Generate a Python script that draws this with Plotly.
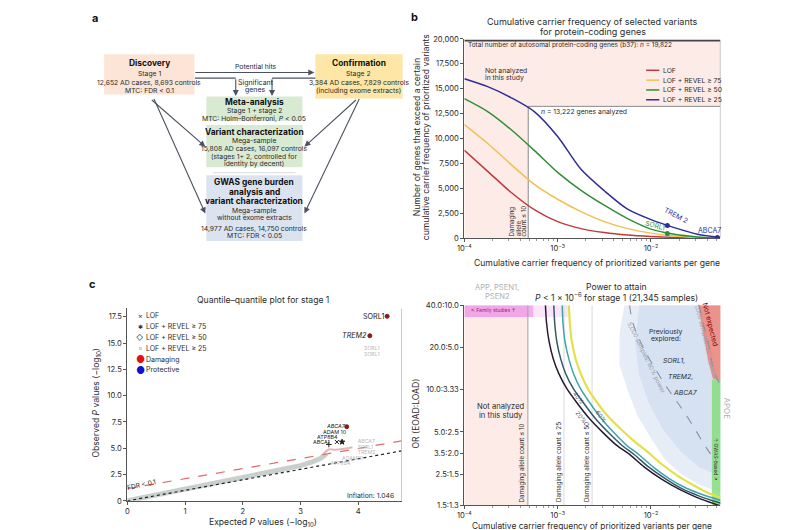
import math
import plotly.graph_objects as go

W, H = 800, 530
def PX(x): return x / W
def PY(y): return 1 - y / H
L10 = math.log10

FONT = "Inter, 'Open Sans', sans-serif"
TXT = "#2b2b2b"
AX = "#555555"
ARROW = "#4a5262"

# ================= DATA =================
# Panel b: cumulative carrier frequency curves
b_freq = [1e-4, 1.78e-4, 3.16e-4, 5.62e-4, 1e-3, 1.78e-3, 3.16e-3, 5.62e-3, 1e-2, 1.78e-2, 3.16e-2, 5.5e-2]
b_lof = [8800, 6700, 4600, 2850, 1650, 950, 550, 300, 160, 70, 25, 5]
b_revel75 = [11400, 9500, 7400, 5400, 3900, 2650, 1650, 950, 500, 200, 60, 10]
b_revel50 = [14000, 12700, 10900, 8800, 6600, 4800, 3300, 1950, 900, 380, 120, 20]
b_revel25 = [16000, 15200, 14100, 12700, 10200, 6900, 4750, 2900, 1850, 1050, 380, 60]
b_series_names = ["LOF", "LOF + REVEL ≥ 75", "LOF + REVEL ≥ 50", "LOF + REVEL ≥ 25"]
b_colors = ["#c0393b", "#f0c050", "#2f8f36", "#2e2e96"]
b_total_genes = 19822
b_analyzed_genes = 13222
b_cutoff_freq = 4.84e-4
b_xmax = 0.0556
b_mark_genes = ["TREM 2", "SORL1", "ABCA7"]
b_mark_freq = [1.5e-2, 1.5e-2, 5.15e-2]
b_mark_val = [1260, 450, 70]
b_mark_colors = ["#2e2e96", "#2f8f36", "#2e2e96"]

# Panel c (left): QQ plot
qq_band_exp = [0, 0.5, 1.0, 1.5, 2.0, 2.5, 3.0, 3.2, 3.35, 3.45]
qq_band_obs = [0, 0.55, 1.1, 1.65, 2.2, 2.75, 3.35, 3.7, 4.05, 4.5]
qq_bump_exp = [3.38, 3.45, 3.5, 3.6, 3.75, 3.9]
qq_bump_obs = [4.3, 4.75, 4.9, 4.85, 4.95, 5.1]
qq_fdr_exp = [0, 4.75]
qq_fdr_obs = [1.15, 5.7]
qq_null_exp = [0, 4.75]
qq_null_obs = [0, 4.75]
qq_hit_genes = ["SORL1", "TREM2", "ABCA7", "ADAM 10", "ATP8B4", "ABCA1"]
qq_hit_exp = [4.50, 4.20, 3.80, 3.63, 3.72, 3.49]
qq_hit_obs = [17.55, 15.7, 7.05, 5.6, 5.6, 5.36]
qq_label_exp = [4.26, 3.93, 3.61, 3.60, 3.47, 3.36]
qq_label_obs = [17.55, 15.7, 7.07, 6.5, 6.04, 5.6]
qq_hit_symbols = ["circle", "circle", "circle", "x-thin", "star", "cross-thin"]
qq_hit_colors = ["#8b1a1a", "#8b1a1a", "#8b1a1a", "#222222", "#222222", "#222222"]
qq_gray_genes = ["SORL1", "SORL1", "ABCA7", "SORL1", "TREM2", "ADAM10", "ATP8B4"]
qq_gray_exp = [4.1, 4.1, 3.99, 3.99, 3.99, 3.72, 3.52]
qq_gray_obs = [14.45, 13.85, 5.65, 5.1, 4.55, 4.05, 3.55]
qq_inflation = 1.046

# Panel c (right): power curves (frequency, OR of EOAD)
pw_f20 = [7.4e-4, 7.6e-4, 8.1e-4, 9.0e-4, 1.03e-3, 1.25e-3, 1.6e-3, 2.2e-3, 3.1e-3, 4.3e-3, 5.9e-3, 8.5e-3, 1.3e-2, 2.0e-2, 3.0e-2, 4.2e-2, 5.6e-2]
pw_or20 = [40, 30, 22, 16.5, 13, 10.2, 8.1, 6.2, 4.9, 4.0, 3.45, 2.8, 2.3, 1.95, 1.72, 1.58, 1.48]
pw_f40 = [9.1e-4, 9.3e-4, 9.8e-4, 1.08e-3, 1.22e-3, 1.47e-3, 1.88e-3, 2.55e-3, 3.55e-3, 4.9e-3, 6.6e-3, 9.5e-3, 1.45e-2, 2.2e-2, 3.3e-2, 4.5e-2, 5.6e-2]
pw_or40 = [40, 30, 22, 16.5, 13, 10.2, 8.1, 6.2, 4.9, 4.0, 3.45, 2.8, 2.3, 1.95, 1.74, 1.62, 1.55]
pw_f60 = [1.12e-3, 1.14e-3, 1.2e-3, 1.32e-3, 1.48e-3, 1.75e-3, 2.2e-3, 2.95e-3, 4.05e-3, 5.5e-3, 7.4e-3, 1.06e-2, 1.6e-2, 2.4e-2, 3.6e-2, 5.6e-2]
pw_or60 = [40, 30, 22, 16.5, 13, 10.2, 8.1, 6.2, 4.9, 4.0, 3.45, 2.8, 2.3, 1.98, 1.78, 1.62]
pw_f80 = [1.32e-3, 1.35e-3, 1.42e-3, 1.56e-3, 1.77e-3, 2.1e-3, 2.65e-3, 3.5e-3, 4.8e-3, 6.6e-3, 9.2e-3, 1.3e-2, 1.9e-2, 2.8e-2, 4.0e-2, 5.6e-2]
pw_or80 = [40, 30, 22, 16.5, 13, 10.2, 8.1, 6.4, 5.2, 4.3, 3.6, 2.95, 2.45, 2.1, 1.85, 1.7]
pw_labels = ["20%", "40%", "60%", "80%"]
pw_colors = ["#2a1b33", "#33586a", "#3fa3ae", "#e4e04a"]
pw_5k_f = [5.9e-3, 6.4e-3, 8.2e-3, 1.34e-2, 2.38e-2, 4.2e-2, 5.16e-2]
pw_5k_or = [40, 30, 20.2, 11.5, 6.6, 3.6, 3.0]
pw_1k_f = [3.3e-2, 3.6e-2, 4.04e-2, 4.75e-2, 5.4e-2]
pw_1k_or = [40, 30, 23, 13.4, 11.2]
pw_explored_outer_f = [5.2e-3, 4.6e-3, 4.6e-3, 5.6e-3, 7.2e-3, 1.0e-2, 1.4e-2, 2.1e-2, 3.3e-2, 5.6e-2, 5.6e-2]
pw_explored_outer_or = [40, 25, 15, 10, 6.5, 4.5, 3.2, 2.5, 2.1, 1.85, 40]
pw_explored_inner_f = [7.5e-3, 6.8e-3, 7.4e-3, 9.5e-3, 1.35e-2, 2.1e-2, 3.3e-2, 5.6e-2, 5.6e-2]
pw_explored_inner_or = [40, 22, 13, 8, 5.2, 3.6, 2.8, 2.4, 40]
pw_notexp_f = [3.2e-2, 3.6e-2, 4.1e-2, 4.6e-2, 5.6e-2, 5.6e-2]
pw_notexp_or = [40, 25, 16, 12, 11.5, 40]
pw_gwas_f = [4.5e-2, 5.6e-2, 5.6e-2, 4.5e-2]
pw_gwas_or = [1.5, 1.5, 11.8, 11.8]
pw_family_f = [1e-4, 5.5e-4, 5.5e-4, 1e-4]
pw_family_or = [33, 33, 40, 40]
pw_family_fade_f = [5.5e-4, 1.3e-3, 1.3e-3, 5.5e-4]
pw_cutoff_freqs = [4.8e-4, 1.17e-3, 2.34e-3]
pw_cutoff_counts = [10, 25, 50]
pw_ytick_vals = [1.5, 2.5, 3.5, 5, 10, 20, 40]
pw_ytick_text = ["1.5:1.3", "2.5:1.5", "3.5:2.0", "5.0:2.5", "10.0:3.33", "20.0:5.0", "40.0:10.0"]

# ================= FIGURE =================
fig = go.Figure()
shapes, annotations = [], []

def txt(x, y, s, size=6.8, color=TXT, xanchor='center', yanchor='middle', angle=0, bold=False, italic=False):
    if bold:
        s = f"<b>{s}</b>"
    if italic:
        s = f"<i>{s}</i>"
    annotations.append(dict(x=PX(x), y=PY(y), xref='paper', yref='paper', text=s, showarrow=False,
                            font=dict(size=size, color=color, family=FONT), xanchor=xanchor,
                            yanchor=yanchor, textangle=angle, borderpad=0))

def line(x0, y0, x1, y1, color=ARROW, width=1.1, dash='solid'):
    shapes.append(dict(type='line', xref='paper', yref='paper', x0=PX(x0), y0=PY(y0), x1=PX(x1), y1=PY(y1),
                       line=dict(color=color, width=width, dash=dash)))

def arrow(x0, y0, x1, y1):
    annotations.append(dict(x=PX(x1), y=PY(y1), xref='paper', yref='paper', ax=x0 - x1, ay=y0 - y1,
                            axref='pixel', ayref='pixel', showarrow=True, arrowhead=2, arrowsize=1.1,
                            arrowwidth=1.1, arrowcolor=ARROW, text=''))

def rect(x0, y0, x1, y1, fill):
    shapes.append(dict(type='rect', xref='paper', yref='paper', x0=PX(x0), y0=PY(y1), x1=PX(x1), y1=PY(y0),
                       fillcolor=fill, line=dict(width=0), layer='below'))

# ---------- Panel a: flowchart ----------
txt(81, 6, "a", size=11, bold=True, color="#111")
rect(90, 43, 181, 84, '#fce4d6')
rect(303, 43, 391, 88, '#fde6a6')
rect(193, 86, 290, 111, '#d9ead3')
rect(193, 115, 290, 158, '#d9ead3')
rect(193, 166, 290, 233, '#dbe3f1')
line(200, 163.5, 283, 163.5, color='#d0d0d0', width=0.8)

TS = 8.4
txt(135.5, 51.7, "Discovery", size=TS, bold=True, color="#111")
txt(135.5, 63, "Stage 1")
txt(135.5, 72, "12,652 AD cases, 8,693 controls")
txt(135.5, 80, "MTC: FDR < 0.1")
txt(347, 51.7, "Confirmation", size=TS, bold=True, color="#111")
txt(347, 63, "Stage 2")
txt(347, 72, "3,384 AD cases, 7,829 controls")
txt(347, 80, "(including exome extracts)")
txt(241.5, 91.3, "Meta-analysis", size=TS, bold=True, color="#111")
txt(241.5, 100, "Stage 1 + stage 2")
txt(241.5, 108.3, "MTC: Holm–Bonferroni, <i>P</i> < 0.05")
txt(241.5, 122, "Variant characterization", size=TS, bold=True, color="#111")
txt(241.5, 131, "Mega-sample")
txt(241.5, 139.3, "15,808 AD cases, 16,097 controls")
txt(241.5, 146.7, "(stages 1+ 2, controlled for")
txt(241.5, 154, "identity by decent)")
txt(241.5, 173.3, "GWAS gene burden", size=TS, bold=True, color="#111")
txt(241.5, 182.7, "analysis and", size=TS, bold=True, color="#111")
txt(241.5, 192, "variant characterization", size=TS, bold=True, color="#111")
txt(241.5, 202, "Mega-sample")
txt(241.5, 209.3, "without exome extracts")
txt(241.5, 220, "14,977 AD cases, 14,750 controls")
txt(241.5, 227.7, "MTC: FDR < 0.05")

arrow(181.5, 61.5, 302, 61.5)
txt(243, 55.7, "Potential hits")
line(181.5, 67.3, 222.7, 67.3)
arrow(222.7, 67.3, 222.7, 85.5)
line(303, 67.3, 259.3, 67.3)
arrow(259.3, 67.3, 259.3, 85.5)
txt(243, 71.7, "Significant", size=7)
txt(243, 79.3, "genes", size=7)
arrow(137, 89, 192, 137)
arrow(140, 89, 192, 205)
arrow(345, 89, 292, 137)
arrow(347.5, 89, 292, 205)

# ---------- Panel b ----------
txt(403, 5, "b", size=11, bold=True, color="#111")
fig.add_trace(go.Scatter(x=[1e-4, b_cutoff_freq, b_cutoff_freq, b_xmax, b_xmax, 1e-4],
                         y=[0, 0, b_analyzed_genes, b_analyzed_genes, b_total_genes, b_total_genes],
                         fill='toself', fillcolor='#fcebe7', line=dict(width=0), mode='lines',
                         hoverinfo='skip', xaxis='x', yaxis='y'))
fig.add_trace(go.Scatter(x=[b_cutoff_freq, b_cutoff_freq, b_xmax], y=[0, b_analyzed_genes, b_analyzed_genes],
                         mode='lines', line=dict(color='#8a8a8a', width=1), xaxis='x', yaxis='y'))
fig.add_trace(go.Scatter(x=[1e-4, b_xmax], y=[b_total_genes, b_total_genes], mode='lines',
                         line=dict(color='#444', width=1.6), xaxis='x', yaxis='y'))
fig.add_trace(go.Scatter(x=[b_xmax, b_xmax], y=[0, b_total_genes], mode='lines',
                         line=dict(color='#aaa', width=1.2), xaxis='x', yaxis='y'))
for ys, c in zip([b_lof, b_revel75, b_revel50, b_revel25], b_colors):
    fig.add_trace(go.Scatter(x=b_freq, y=ys, mode='lines', line=dict(color=c, width=1.5, shape='spline', smoothing=0.8),
                             xaxis='x', yaxis='y'))
fig.add_trace(go.Scatter(x=b_mark_freq, y=b_mark_val, mode='markers',
                         marker=dict(color=b_mark_colors, size=5), xaxis='x', yaxis='y'))
annotations.append(dict(x=L10(b_mark_freq[0]), y=b_mark_val[0], xref='x', yref='y', text=b_mark_genes[0],
                        showarrow=False, xshift=9, yshift=10, textangle=28,
                        font=dict(size=7, color=b_mark_colors[0], family=FONT)))
annotations.append(dict(x=L10(b_mark_freq[1]), y=b_mark_val[1], xref='x', yref='y', text=b_mark_genes[1],
                        showarrow=False, xshift=-12, yshift=8, textangle=15,
                        font=dict(size=6.8, color=b_mark_colors[1], family=FONT)))
annotations.append(dict(x=L10(b_mark_freq[2]), y=b_mark_val[2], xref='x', yref='y', text=b_mark_genes[2],
                        showarrow=False, xshift=-8, yshift=7,
                        font=dict(size=7, color=b_mark_colors[2], family=FONT)))
# legend (manual)
for i, (nm, c) in enumerate(zip(b_series_names, b_colors)):
    yy = 59.3 + 10 * i
    line(636.7, yy, 650, yy, color=c, width=1.5)
    txt(652.5, yy, nm, size=6.8, xanchor='left')

txt(583, 9.5, "Cumulative carrier frequency of selected variants", size=9)
txt(583, 19.5, "for protein-coding genes", size=9)
txt(456, 33.3, "Total number of autosomal protein-coding genes (b37): <i>n</i> = 19,822", size=6.5, xanchor='left')
txt(472.7, 59.3, "Not analyzed", size=6.8, xanchor='left')
txt(472.7, 66.7, "in this study", size=6.8, xanchor='left')
txt(529.3, 101.7, "<i>n</i> = 13,222 genes analyzed", size=6.8, xanchor='left')
txt(501.7, 229, "Damaging", size=6.2, angle=-90, yanchor='bottom')
txt(507.5, 229, "allele", size=6.2, angle=-90, yanchor='bottom')
txt(513.3, 229, "count ≤ 10", size=6.2, angle=-90, yanchor='bottom')
txt(405, 127, "Number of genes that exceed a certain", size=8.6, angle=-90)
txt(414, 127, "cumulative carrier frequency of prioritized variants", size=8.6, angle=-90)
txt(586.7, 255, "Cumulative carrier frequency of prioritized variants per gene", size=8.6)

# ---------- Panel c left: QQ ----------
txt(78, 277, "c", size=11, bold=True, color="#111")
fig.add_trace(go.Scatter(x=qq_band_exp, y=qq_band_obs, mode='lines', line=dict(color='#c8cfcd', width=5),
                         xaxis='x2', yaxis='y2'))
fig.add_trace(go.Scatter(x=qq_bump_exp, y=qq_bump_obs, mode='lines', line=dict(color='#e2b9b9', width=2, shape='spline'),
                         xaxis='x2', yaxis='y2'))
fig.add_trace(go.Scatter(x=qq_null_exp, y=qq_null_obs, mode='lines', line=dict(color='#222', width=1.2, dash='dot'),
                         xaxis='x2', yaxis='y2'))
fig.add_trace(go.Scatter(x=qq_fdr_exp, y=qq_fdr_obs, mode='lines', line=dict(color='#e06a6a', width=1.2, dash='dash'),
                         xaxis='x2', yaxis='y2'))
fig.add_trace(go.Scatter(x=qq_gray_exp, y=qq_gray_obs, mode='text', text=qq_gray_genes,
                         textfont=dict(size=5.2, color='#b8b8b8', family=FONT), textposition='middle right',
                         xaxis='x2', yaxis='y2'))
fig.add_trace(go.Scatter(x=qq_hit_exp, y=qq_hit_obs, mode='markers',
                         marker=dict(symbol=qq_hit_symbols, color=qq_hit_colors, size=4,
                                     line=dict(width=1, color=qq_hit_colors)),
                         xaxis='x2', yaxis='y2'))
for g, ex, ob in zip(qq_hit_genes, qq_label_exp, qq_label_obs):
    it = g in ("TREM2", "ABCA7")
    big = ob > 10
    annotations.append(dict(x=ex, y=ob, xref='x2', yref='y2', text=(f"<i>{g}</i>" if it else g), showarrow=False,
                            font=dict(size=7.2 if big else 5.4, color='#222', family=FONT)))
# QQ legend
leg = [("×", "LOF", '#333', 7), ("✱", "LOF + REVEL ≥ 75", '#333', 6), ("◇", "LOF + REVEL ≥ 50", '#333', 7),
       ("▫", "LOF + REVEL ≥ 25", '#333', 8), ("●", "Damaging", '#e01010', 10), ("●", "Protective", '#1010d0', 10)]
for i, (sym, nm, c, s) in enumerate(leg):
    yy = 309 + 11 * i
    txt(126.5, yy, sym, size=s, color=c)
    txt(131.5, yy, nm, size=7, xanchor='left')
txt(250, 293, "Quantile–quantile plot for stage 1", size=8.6)
txt(383, 492.3, f"Inflation: {qq_inflation}", size=6.8, xanchor='right')
txt(128, 481.5, "FDR < 0.1", size=6.6, angle=-12)
txt(82, 398, "Observed <i>P</i> values (−log<sub>10</sub>)", size=8.6, angle=-90)
txt(250, 519, "Expected <i>P</i> values (−log<sub>10</sub>)", size=8.6)

# ---------- Panel c right: power ----------
def poly(xs, ys, fill):
    fig.add_trace(go.Scatter(x=xs, y=ys, fill='toself', fillcolor=fill, mode='lines', line=dict(width=0),
                             hoverinfo='skip', xaxis='x3', yaxis='y3'))

poly([1e-4, pw_cutoff_freqs[0], pw_cutoff_freqs[0], 1e-4], [1.5, 1.5, 40, 40], '#fcebe7')
poly(pw_family_f, pw_family_or, 'rgba(235,120,228,0.6)')
poly(pw_family_fade_f, pw_family_or, 'rgba(242,180,238,0.35)')
poly(pw_explored_outer_f, pw_explored_outer_or, 'rgba(214,225,242,0.6)')
poly(pw_explored_inner_f, pw_explored_inner_or, 'rgba(196,210,234,0.45)')
poly(pw_notexp_f, pw_notexp_or, 'rgba(242,125,112,0.8)')
poly(pw_gwas_f, pw_gwas_or, 'rgba(122,220,110,0.75)')
for i, fq in enumerate(pw_cutoff_freqs):
    fig.add_trace(go.Scatter(x=[fq, fq], y=[1.5, 40], mode='lines',
                             line=dict(color='#a0a0a0' if i == 0 else '#dadada', width=1), xaxis='x3', yaxis='y3'))
fig.add_trace(go.Scatter(x=pw_5k_f, y=pw_5k_or, mode='lines', line=dict(color='#8a8f98', width=1.1, dash='dash', shape='spline'),
                         xaxis='x3', yaxis='y3'))
fig.add_trace(go.Scatter(x=pw_1k_f, y=pw_1k_or, mode='lines', line=dict(color='#8a8f98', width=1.1, dash='dash', shape='spline'),
                         xaxis='x3', yaxis='y3'))
for fs, ors, c, wdt in zip([pw_f20, pw_f40, pw_f60, pw_f80], [pw_or20, pw_or40, pw_or60, pw_or80], pw_colors, [1.5, 1.5, 1.5, 2.2]):
    fig.add_trace(go.Scatter(x=fs, y=ors, mode='lines', line=dict(color=c, width=wdt, shape='spline', smoothing=0.8),
                             xaxis='x3', yaxis='y3'))

txt(606.7, 280, "Power to attain", size=8.6)
txt(606.7, 290, "<i>P</i> < 1 × 10<sup>−6</sup> for stage 1 (21,345 samples)", size=8.6)
txt(486.7, 280.5, "APP, PSEN1,", size=7.6, color='#b0b0b0')
txt(486.7, 289, "PSEN2", size=7.6, color='#b0b0b0')
txt(483, 303.5, "↖ Family studies ↑", size=5, color='#8a2a8a')
txt(490, 401.7, "Not analyzed", size=7.6)
txt(490, 410, "in this study", size=7.6)
for fq, cnt in zip(pw_cutoff_freqs, pw_cutoff_counts):
    xp = 453.3 + (L10(fq) + 4) * 94.1 - 5.5
    txt(xp, 500, f"Damaging allele count ≤ {cnt}", size=6.2, angle=-90, yanchor='bottom')
txt(656.7, 325, "Previously", size=6.8)
txt(656.7, 332.5, "explored:", size=6.8)
txt(665, 355, "SORL1,", size=6.8, italic=True)
txt(671.7, 371, "TREM2,", size=6.8, italic=True)
txt(676.7, 386.7, "ABCA7", size=6.8, italic=True)
txt(572, 412, "20%", size=6, angle=52, color='#555')
txt(568.5, 392, "40%", size=6, angle=52, color='#555')
txt(592, 411, "60%", size=6, angle=52, color='#555')
txt(637, 352, "5,000 samples: 80% power", size=6, angle=64, color='#9a9fa8')
txt(697, 336, "1,000 samples: 80% power", size=6, angle=76, color='#9a9fa8')
txt(701.5, 318, "Not expected", size=7, angle=76, color='#7a1010')
txt(718, 403, "APOE", size=8, angle=90, color='#b0b0b0')
txt(706.5, 455, "↑ GWAS-based ↗", size=5, angle=90, color='#333')
txt(405, 408, "OR (EOAD:LOAD)", size=8.6, angle=-90)
txt(582.5, 522.5, "Cumulative carrier frequency of prioritized variants per gene", size=8.4)

# ================= LAYOUT =================
log_minor = [m * 10 ** e for e in (-4, -3, -2) for m in range(2, 10)]
common_ax = dict(showline=True, linecolor=AX, linewidth=1, ticks='outside', ticklen=3, tickcolor=AX,
                 tickfont=dict(size=7.6, color=TXT, family=FONT), zeroline=False, showgrid=False)
dec_text = ["10<sup>−4</sup>", "10<sup>−3</sup>", "10<sup>−2</sup>"]
fig.update_layout(
    width=W, height=H, margin=dict(l=0, r=0, t=0, b=0), paper_bgcolor='white', plot_bgcolor='rgba(0,0,0,0)',
    showlegend=False, font=dict(family=FONT, color=TXT),
    xaxis=dict(type='log', range=[-4, L10(b_xmax)], domain=[PX(453.3), PX(711.7)], anchor='y',
               tickvals=[1e-4, 1e-3, 1e-2], ticktext=dec_text,
               minor=dict(ticks='outside', ticklen=2, tickcolor='#999', tickvals=log_minor), **common_ax),
    yaxis=dict(range=[0, 20000], domain=[PY(230), PY(27.3)], anchor='x', tickvals=list(range(0, 20001, 2500)),
               tickformat=',', **common_ax),
    xaxis2=dict(range=[0, 4.75], domain=[PX(113.3), PX(390)], anchor='y2', tickvals=[0, 1, 2, 3, 4], **common_ax),
    yaxis2=dict(range=[0, 18.3], domain=[PY(497.3), PY(301.5)], anchor='x2',
                tickvals=[0, 2.5, 5, 7.5, 10, 12.5, 15, 17.5],
                ticktext=["0", "2.5", "5.0", "7.5", "10.0", "12.5", "15.0", "17.5"], **common_ax),
    xaxis3=dict(type='log', range=[-4, L10(b_xmax)], domain=[PX(453.3), PX(711.7)], anchor='y3',
                tickvals=[1e-4, 1e-3, 1e-2], ticktext=dec_text,
                minor=dict(ticks='outside', ticklen=2, tickcolor='#999', tickvals=log_minor), **common_ax),
    yaxis3=dict(type='log', range=[L10(1.5), L10(40)], domain=[PY(501.7), PY(298.3)], anchor='x3',
                tickvals=pw_ytick_vals, ticktext=pw_ytick_text, **common_ax),
    shapes=shapes, annotations=annotations,
)
fig.add_shape(type='line', xref='x2', yref='y2', x0=4.75, x1=4.75, y0=0, y1=18.3, line=dict(color='#999', width=1))

fig.write_html("out.html")
